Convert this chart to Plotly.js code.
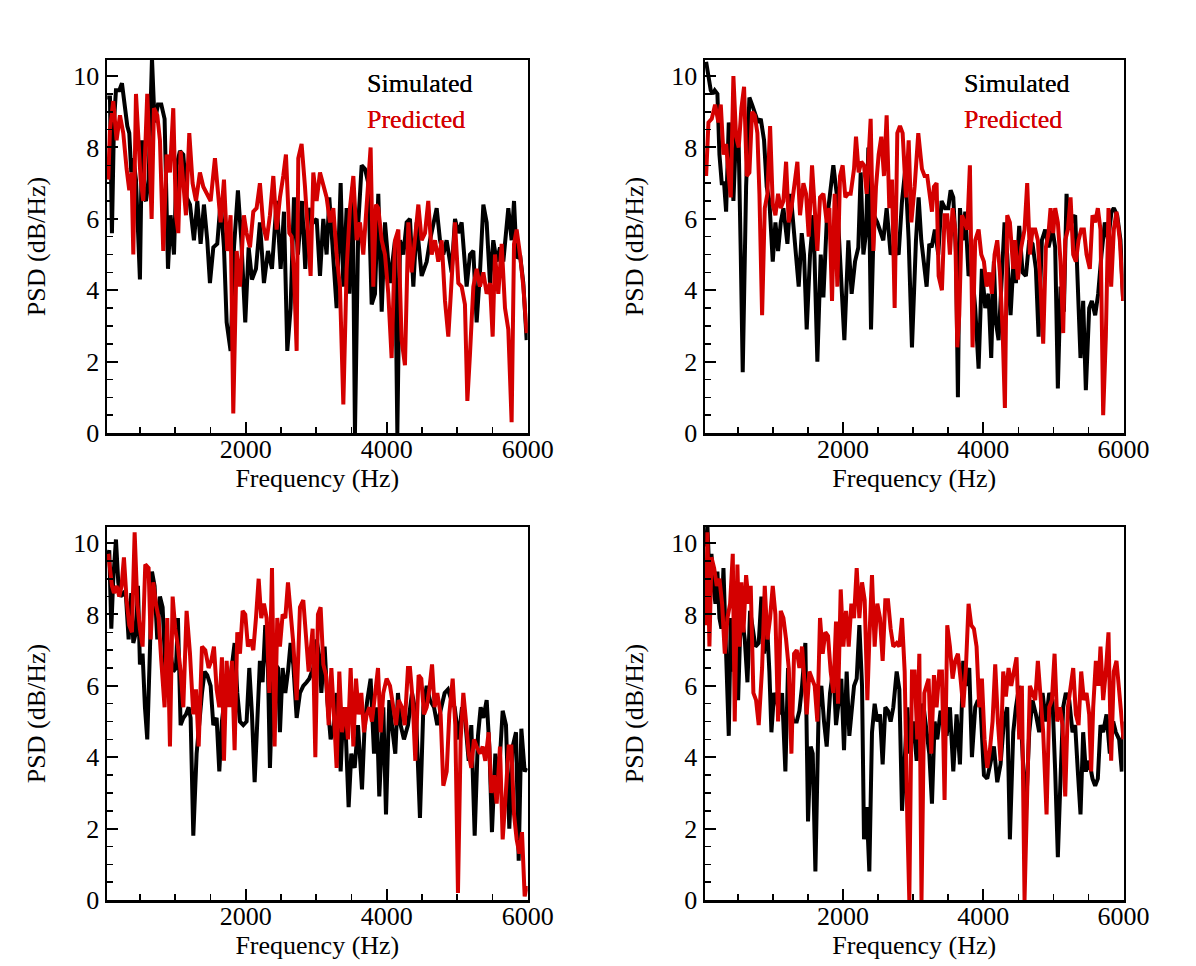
<!DOCTYPE html>
<html><head><meta charset="utf-8">
<script src="https://cdn.plot.ly/plotly-3.0.1.min.js"></script>
<style>html,body{margin:0;padding:0;background:#fff}#chart{width:1196px;height:966px}</style>
</head><body><div id="chart"></div>
<script>
// ---- data: [frequency (Hz), PSD (dB/Hz)] ----
const p1Sim = [[37,9.4],[75,9.4],[103,5.6],[132,8.7],[160,9.6],[207,9.6],[245,9.8],[283,9.1],[321,8.6],[349,8.4],[377,7.3],[406,7.7],[444,7.1],[500,4.3],[529,8.2],[557,6.6],[586,6.5],[623,7.1],[671,10.5],[708,8.7],[756,9.2],[803,9.2],[850,8.8],[898,4.6],[935,6.1],[983,5.0],[1020,7.5],[1068,7.9],[1115,7.8],[1162,6.6],[1210,6.4],[1266,5.4],[1314,6.5],[1361,5.3],[1408,6.4],[1455,5.4],[1493,4.2],[1541,5.2],[1597,5.3],[1645,6.5],[1692,5.2],[1730,3.1],[1786,2.3],[1834,5.2],[1890,6.8],[1938,5.4],[1994,3.1],[2042,5.2],[2089,4.3],[2146,4.6],[2202,5.9],[2259,4.2],[2316,5.1],[2373,4.6],[2439,6.5],[2496,4.6],[2543,6.2],[2590,2.3],[2637,3.5],[2685,6.6],[2741,5.0],[2798,6.5],[2845,4.6],[2893,6.3],[2959,5.9],[3007,6.0],[3054,4.4],[3101,6.0],[3148,5.0],[3186,6.6],[3219,5.6],[3290,3.5],[3347,7.0],[3385,4.1],[3432,6.3],[3470,3.9],[3517,6.9],[3550,0],[3598,5.9],[3645,7.5],[3692,7.4],[3739,7.0],[3787,3.6],[3834,3.9],[3881,6.7],[3929,3.4],[3976,5.9],[4047,4.2],[4118,5.4],[4151,0],[4189,5.4],[4236,5.0],[4283,5.9],[4330,6.0],[4378,4.1],[4425,5.9],[4496,4.4],[4567,4.8],[4614,5.4],[4709,6.3],[4756,5.4],[4803,5.0],[4850,5.4],[4921,4.5],[4969,6.0],[5016,5.6],[5063,5.9],[5134,4.1],[5181,5.0],[5229,5.1],[5276,3.1],[5323,4.5],[5371,6.4],[5418,5.9],[5465,4.2],[5512,5.4],[5560,4.8],[5607,5.2],[5654,4.8],[5725,6.3],[5772,5.4],[5806,6.5],[5843,4.9],[5891,5.0],[5938,4.2],[5985,2.6]];
const p1Pred = [[51,7.1],[75,8.5],[122,9.3],[169,8.2],[217,8.9],[264,8.4],[311,7.4],[349,6.8],[382,7.3],[406,5.0],[444,9.5],[481,7.8],[510,7.1],[548,6.5],[604,9.5],[633,8.1],[666,6.0],[699,9.1],[746,8.9],[784,8.2],[831,5.1],[879,7.8],[926,7.3],[973,9.1],[1011,6.1],[1044,5.6],[1077,7.9],[1115,7.0],[1153,6.1],[1200,8.4],[1247,7.0],[1295,6.5],[1351,7.3],[1399,6.9],[1446,6.7],[1503,6.5],[1564,7.7],[1611,6.7],[1645,5.9],[1692,7.1],[1739,5.1],[1786,6.1],[1824,0.55],[1872,5.1],[1919,4.1],[1975,6.1],[2013,5.6],[2061,5.2],[2108,6.2],[2155,6.3],[2202,7.0],[2250,5.8],[2297,5.4],[2344,6.1],[2392,7.2],[2439,5.7],[2486,6.6],[2533,7.2],[2571,7.8],[2619,5.6],[2652,5.5],[2685,4.5],[2723,2.3],[2746,7.7],[2793,8.1],[2841,6.9],[2888,5.4],[2921,4.4],[2959,7.3],[3006,6.5],[3054,7.3],[3101,6.9],[3148,6.6],[3196,5.9],[3243,6.3],[3290,5.0],[3337,4.1],[3385,0.8],[3432,4.6],[3479,6.3],[3527,7.2],[3574,5.4],[3621,5.9],[3668,5.0],[3725,6.6],[3772,8.0],[3810,4.1],[3848,6.4],[3881,6.3],[3929,5.4],[3976,5.0],[4023,3.9],[4070,2.1],[4118,5.4],[4165,5.7],[4212,2.6],[4259,1.9],[4307,5.9],[4354,4.5],[4401,5.6],[4449,6.4],[4496,5.4],[4543,5.6],[4590,6.5],[4638,5.0],[4685,5.4],[4732,4.8],[4780,5.4],[4827,3.7],[4874,2.7],[4921,4.4],[4969,5.9],[5016,4.2],[5063,4.1],[5110,3.6],[5144,0.9],[5181,2.2],[5229,4.1],[5276,4.6],[5323,4.1],[5371,4.5],[5418,3.9],[5465,4.2],[5503,2.7],[5536,5.0],[5583,3.9],[5631,5.3],[5678,3.5],[5725,2.9],[5772,0.3],[5806,5.3],[5843,5.7],[5891,5.0],[5938,4.1],[5985,2.8]];

const p2Sim = [[49,10.4],[82,9.9],[115,9.6],[144,9.5],[172,9.6],[210,9.5],[239,7.8],[272,7.0],[305,7.0],[334,6.2],[372,8.7],[410,8.0],[438,6.5],[476,8.4],[514,8.0],[543,5.0],[571,1.7],[619,6.9],[666,9.4],[704,9.2],[742,9.0],[790,8.7],[828,8.8],[875,8.2],[913,6.9],[951,6.5],[999,4.8],[1037,5.9],[1075,5.1],[1113,5.9],[1151,6.3],[1208,5.3],[1255,6.7],[1317,5.4],[1369,4.1],[1412,5.6],[1445,5.0],[1483,2.9],[1531,5.0],[1578,6.1],[1635,2.0],[1683,5.0],[1721,3.8],[1768,5.9],[1816,6.8],[1863,7.5],[1911,6.7],[1958,5.0],[2020,2.6],[2077,5.4],[2124,3.9],[2172,4.8],[2219,5.2],[2253,7.3],[2291,5.0],[2329,5.6],[2362,8.0],[2400,2.9],[2442,6.1],[2490,5.9],[2528,5.7],[2575,5.4],[2623,6.3],[2680,5.0],[2728,5.2],[2794,5.0],[2842,6.5],[2889,7.4],[2937,5.4],[2984,2.4],[3041,5.4],[3079,6.6],[3117,5.4],[3155,4.8],[3193,4.1],[3231,5.3],[3264,5.2],[3311,5.7],[3359,5.0],[3406,6.5],[3454,6.3],[3501,6.3],[3535,6.8],[3573,6.6],[3611,5.1],[3639,1.0],[3668,6.3],[3706,5.4],[3744,6.2],[3791,4.4],[3839,4.6],[3886,3.5],[3934,1.8],[3981,4.6],[4029,3.5],[4076,3.9],[4114,2.1],[4152,4.8],[4181,3.1],[4219,2.6],[4266,4.5],[4304,5.9],[4342,5.0],[4390,3.3],[4437,5.0],[4466,4.2],[4513,5.8],[4561,4.5],[4608,4.4],[4656,5.4],[4703,5.3],[4751,4.6],[4789,2.7],[4836,5.4],[4884,5.7],[4931,5.2],[4988,5.7],[5026,5.2],[5064,1.25],[5102,4.1],[5150,3.4],[5188,6.7],[5226,5.7],[5273,6.0],[5311,6.1],[5349,4.4],[5387,2.1],[5425,3.7],[5463,1.2],[5511,3.5],[5549,3.7],[5596,3.3],[5639,3.9],[5686,5.0],[5734,5.9],[5781,5.4],[5829,6.2],[5862,6.3],[5910,6.1],[5957,5.4],[5995,3.7]];
const p2Pred = [[49,7.2],[82,8.7],[129,8.8],[177,9.2],[224,8.7],[258,9.2],[296,7.8],[334,8.1],[367,7.3],[400,6.6],[438,10.0],[476,8.3],[514,8.0],[552,9.1],[590,9.7],[628,7.2],[666,7.3],[704,9.0],[742,8.9],[780,8.4],[809,6.7],[847,3.3],[885,6.3],[923,6.7],[961,8.6],[999,6.4],[1037,6.1],[1075,6.7],[1113,6.3],[1151,6.5],[1189,7.6],[1227,5.9],[1265,6.3],[1303,6.9],[1350,7.6],[1388,6.1],[1436,7.0],[1474,6.7],[1512,5.5],[1559,7.5],[1597,6.1],[1635,5.1],[1673,6.6],[1721,6.7],[1768,5.9],[1806,6.3],[1844,3.7],[1882,6.7],[1920,4.1],[1958,7.2],[1996,7.5],[2034,6.6],[2072,6.7],[2110,6.7],[2158,7.4],[2186,8.3],[2224,7.3],[2262,7.6],[2300,7.5],[2338,6.7],[2395,8.8],[2433,5.1],[2471,6.9],[2509,7.8],[2547,8.3],[2585,7.2],[2623,8.9],[2661,6.3],[2699,7.1],[2737,3.5],[2775,8.4],[2813,8.6],[2851,8.4],[2899,6.6],[2937,8.2],[2975,5.9],[3022,6.9],[3074,8.4],[3126,7.4],[3164,7.2],[3202,7.2],[3231,6.7],[3269,6.2],[3297,6.9],[3335,7.0],[3364,4.4],[3411,4.0],[3449,6.1],[3487,6.1],[3525,5.0],[3563,6.3],[3601,5.7],[3630,2.4],[3658,3.3],[3696,6.1],[3734,5.9],[3772,5.7],[3810,7.5],[3848,2.4],[3886,5.4],[3934,5.7],[3972,5.0],[4010,4.8],[4048,4.1],[4086,4.5],[4124,3.9],[4162,5.0],[4200,5.4],[4238,4.5],[4276,2.9],[4309,0.7],[4342,6.1],[4380,5.9],[4428,4.6],[4456,5.4],[4494,4.3],[4542,5.2],[4589,5.7],[4627,7.0],[4665,5.0],[4703,5.7],[4741,5.7],[4779,5.4],[4817,4.1],[4855,2.5],[4893,5.2],[4931,5.6],[4960,6.3],[4998,5.6],[5026,6.3],[5064,5.9],[5102,4.8],[5140,2.8],[5169,5.4],[5207,5.7],[5245,6.6],[5283,5.0],[5321,4.8],[5359,5.4],[5397,5.7],[5435,5.7],[5473,5.0],[5520,4.6],[5558,6.1],[5596,5.9],[5634,6.3],[5672,5.7],[5710,0.5],[5748,2.7],[5786,6.3],[5824,4.1],[5862,5.7],[5900,6.2],[5948,5.4],[5995,3.7]];

const p3Sim = [[37,9.5],[65,9.8],[94,7.6],[122,9.0],[160,10.1],[193,8.9],[226,8.5],[264,8.6],[302,8.5],[340,7.3],[377,8.6],[406,7.2],[444,7.5],[472,8.8],[500,6.6],[538,6.9],[571,5.4],[604,4.5],[642,7.0],[671,9.2],[708,8.8],[746,7.3],[784,8.5],[822,8.2],[860,6.5],[898,7.1],[935,6.9],[973,6.4],[1011,6.5],[1039,7.9],[1077,4.9],[1115,5.1],[1153,5.2],[1191,5.4],[1219,5.1],[1257,1.8],[1304,4.1],[1342,5.1],[1380,5.8],[1418,6.4],[1455,6.3],[1503,6.0],[1541,4.9],[1588,5.1],[1626,3.6],[1663,5.0],[1701,5.7],[1739,6.3],[1777,6.1],[1815,6.9],[1843,7.2],[1881,5.8],[1919,5.0],[1966,4.9],[2013,5.0],[2051,6.5],[2089,5.2],[2127,3.3],[2165,5.2],[2202,6.7],[2240,6.1],[2278,7.7],[2316,6.5],[2344,3.7],[2382,6.0],[2420,6.6],[2458,6.5],[2486,4.7],[2524,6.5],[2562,5.8],[2600,6.4],[2637,7.2],[2675,6.6],[2723,5.1],[2770,5.8],[2817,6.0],[2864,6.1],[2902,6.2],[2959,6.5],[3006,7.3],[3054,6.7],[3073,5.8],[3120,7.1],[3158,5.6],[3205,4.5],[3252,4.9],[3290,5.8],[3347,3.6],[3385,5.4],[3423,4.5],[3460,2.6],[3498,4.1],[3546,3.7],[3593,4.9],[3650,3.1],[3687,4.9],[3725,5.6],[3772,6.2],[3820,4.1],[3858,5.4],[3895,2.9],[3952,5.4],[3990,2.4],[4037,5.6],[4085,4.7],[4122,4.1],[4160,5.8],[4198,4.9],[4245,4.5],[4302,4.9],[4359,5.8],[4416,5.2],[4472,2.3],[4520,5.4],[4567,6.0],[4614,5.6],[4671,5.4],[4718,4.9],[4775,5.4],[4822,5.8],[4869,5.9],[4917,5.6],[4964,5.4],[5021,4.5],[5068,5.4],[5115,5.0],[5163,3.9],[5200,4.9],[5248,1.8],[5295,4.6],[5333,5.4],[5371,5.1],[5418,5.6],[5456,4.3],[5493,1.9],[5541,4.1],[5588,3.4],[5645,5.3],[5692,4.9],[5739,2.0],[5787,4.3],[5834,4.7],[5872,1.1],[5910,4.8],[5957,3.6],[5985,3.7]];
const p3Pred = [[51,9.7],[75,9.3],[103,8.8],[132,8.6],[169,8.8],[207,8.5],[240,8.8],[273,9.6],[311,8.4],[349,7.7],[387,7.5],[425,10.3],[463,8.3],[500,7.6],[538,7.1],[576,9.4],[623,9.3],[652,7.3],[690,8.9],[727,8.3],[765,7.9],[803,6.7],[850,5.4],[888,7.9],[926,4.3],[964,8.5],[1001,7.6],[1039,7.1],[1077,6.4],[1115,5.4],[1162,8.1],[1210,6.9],[1257,5.2],[1295,5.9],[1333,4.3],[1380,7.1],[1427,7.0],[1474,6.5],[1512,6.7],[1550,7.1],[1588,5.9],[1626,5.4],[1663,6.8],[1692,3.9],[1730,6.7],[1767,5.4],[1805,6.7],[1843,4.2],[1881,7.5],[1919,6.9],[1957,8.1],[1994,8.0],[2032,7.1],[2070,7.3],[2108,7.0],[2146,7.9],[2184,9.0],[2221,7.9],[2259,8.3],[2297,7.9],[2335,5.8],[2373,9.3],[2410,4.3],[2448,7.9],[2486,7.1],[2524,8.0],[2562,7.9],[2600,8.9],[2637,8.0],[2675,7.2],[2723,5.6],[2770,8.2],[2817,8.4],[2855,7.5],[2893,6.4],[2950,7.6],[2988,4.0],[3025,8.0],[3063,8.2],[3101,6.6],[3139,6.3],[3177,4.9],[3215,6.5],[3252,5.2],[3290,3.7],[3328,6.4],[3366,4.7],[3413,5.4],[3451,4.5],[3489,6.5],[3527,4.3],[3565,6.2],[3602,5.2],[3640,5.8],[3678,4.7],[3716,5.2],[3754,5.4],[3791,5.0],[3839,5.9],[3877,6.5],[3914,4.7],[3952,5.8],[3999,6.2],[4047,6.0],[4094,5.4],[4132,4.9],[4170,5.6],[4217,5.4],[4255,4.9],[4302,6.5],[4330,6.5],[4368,5.6],[4406,3.9],[4453,6.3],[4491,6.2],[4529,5.2],[4567,5.4],[4605,5.9],[4643,6.6],[4680,5.4],[4718,5.8],[4765,5.2],[4803,3.2],[4851,3.6],[4888,5.2],[4936,6.2],[4973,4.9],[5011,0.2],[5049,4.5],[5087,5.8],[5125,5.0],[5163,4.1],[5200,3.7],[5238,4.5],[5276,4.3],[5323,4.1],[5361,4.3],[5399,3.9],[5446,4.7],[5484,3.0],[5522,3.5],[5560,2.7],[5607,4.3],[5645,1.7],[5683,2.8],[5730,4.3],[5768,4.3],[5806,2.4],[5843,1.7],[5881,1.3],[5919,1.9],[5957,0.1],[5990,0.4]];

const p4Sim = [[49,9.9],[67,10.5],[96,9.1],[125,9.7],[153,8.8],[182,8.3],[210,9.2],[239,7.9],[267,7.6],[296,9.3],[334,6.9],[372,4.6],[400,7.9],[429,6.4],[467,7.9],[505,5.6],[533,7.4],[562,7.9],[600,7.3],[638,6.1],[676,8.1],[714,7.5],[752,7.1],[799,7.2],[837,8.5],[875,6.9],[913,7.9],[951,6.4],[980,4.7],[1018,5.8],[1056,5.6],[1094,5.2],[1132,5.8],[1179,3.6],[1217,6.5],[1255,5.4],[1293,5.0],[1341,5.0],[1379,5.3],[1417,6.0],[1464,7.2],[1502,2.2],[1540,4.3],[1569,4.1],[1607,0.8],[1654,5.4],[1692,6.0],[1730,5.0],[1768,4.3],[1816,5.8],[1863,6.5],[1901,4.9],[1939,5.6],[1977,6.2],[2015,4.2],[2053,6.4],[2091,4.6],[2129,5.4],[2158,6.0],[2196,6.2],[2234,7.7],[2272,6.0],[2300,1.7],[2338,2.6],[2376,0.8],[2414,4.7],[2452,5.5],[2490,5.0],[2528,5.2],[2566,3.8],[2604,5.4],[2642,5.3],[2680,5.0],[2718,5.4],[2766,6.4],[2804,5.9],[2842,2.5],[2880,3.9],[2918,5.4],[2956,4.1],[3003,5.0],[3051,3.9],[3098,5.0],[3145,5.5],[3193,4.7],[3231,4.1],[3269,2.7],[3307,5.0],[3345,4.5],[3392,5.3],[3430,5.0],[3478,4.6],[3525,5.4],[3573,3.6],[3620,5.2],[3668,3.8],[3715,6.7],[3753,6.0],[3801,6.5],[3839,4.0],[3886,5.4],[3924,5.6],[3962,5.4],[4010,3.5],[4057,3.4],[4105,3.9],[4152,4.3],[4200,3.3],[4247,3.8],[4295,5.0],[4342,5.4],[4380,1.7],[4428,4.7],[4466,5.4],[4513,6.0],[4561,4.1],[4608,2.4],[4656,4.7],[4703,5.6],[4751,5.2],[4798,4.7],[4846,5.8],[4893,5.0],[4941,5.8],[4988,5.6],[5026,3.6],[5064,1.2],[5102,3.4],[5140,5.4],[5178,5.8],[5226,5.6],[5273,4.7],[5311,4.9],[5349,3.6],[5387,2.4],[5425,4.7],[5463,3.6],[5511,3.9],[5558,3.4],[5596,3.2],[5634,3.4],[5672,4.9],[5710,4.7],[5758,5.2],[5805,4.1],[5853,5.0],[5891,4.7],[5938,4.5],[5976,3.6],[6000,5.0]];
const p4Pred = [[49,7.7],[67,10.3],[96,7.1],[125,9.6],[163,9.3],[201,8.8],[239,9.0],[277,8.3],[315,6.9],[353,7.9],[391,8.3],[429,9.7],[457,5.0],[495,9.4],[524,7.1],[552,8.9],[581,7.5],[619,9.1],[657,8.3],[685,8.8],[723,5.8],[761,5.6],[799,4.9],[847,6.5],[885,8.8],[923,7.3],[961,7.9],[999,8.8],[1037,8.0],[1075,5.0],[1113,8.1],[1151,7.9],[1189,7.3],[1227,6.5],[1265,4.1],[1303,6.9],[1341,7.0],[1379,6.5],[1417,7.1],[1455,6.2],[1483,5.2],[1521,6.4],[1559,6.2],[1597,6.0],[1635,5.0],[1673,7.9],[1711,6.9],[1749,7.5],[1787,7.4],[1825,6.4],[1863,5.8],[1901,7.8],[1930,5.5],[1968,8.7],[2006,7.1],[2044,8.1],[2082,7.1],[2120,8.3],[2158,7.9],[2196,9.3],[2234,7.9],[2272,8.9],[2310,8.4],[2348,5.6],[2376,7.3],[2414,9.1],[2452,7.1],[2490,8.3],[2528,7.9],[2566,6.7],[2604,8.4],[2642,8.4],[2680,7.6],[2718,7.1],[2766,7.2],[2804,7.1],[2842,7.9],[2880,6.4],[2918,2.2],[2946,0],[2984,6.4],[3022,6.4],[3060,4.5],[3089,6.9],[3120,0],[3160,5.8],[3221,6.2],[3259,4.1],[3297,6.3],[3335,5.4],[3373,6.4],[3411,6.4],[3449,2.8],[3487,7.7],[3525,7.1],[3563,6.2],[3601,6.7],[3639,6.9],[3677,6.2],[3715,5.4],[3753,6.5],[3791,8.3],[3829,7.7],[3867,7.6],[3905,7.1],[3943,5.4],[3981,6.2],[4019,4.5],[4057,3.7],[4095,4.2],[4133,5.0],[4171,6.6],[4209,5.0],[4247,3.9],[4285,6.4],[4323,5.7],[4361,6.5],[4399,6.0],[4437,6.4],[4475,6.8],[4513,4.5],[4551,6.0],[4589,0],[4627,3.4],[4665,6.0],[4703,5.8],[4741,5.6],[4779,6.7],[4817,5.6],[4855,4.7],[4903,2.4],[4941,5.4],[4979,5.6],[5017,6.9],[5055,5.0],[5093,5.4],[5131,4.9],[5169,2.9],[5207,5.4],[5245,6.0],[5283,6.5],[5321,5.2],[5359,4.9],[5397,6.4],[5435,5.6],[5473,5.8],[5511,5.2],[5539,3.6],[5568,5.4],[5606,6.7],[5644,6.0],[5672,7.1],[5710,5.6],[5748,6.4],[5786,7.5],[5824,3.9],[5862,6.4],[5900,6.7],[5938,5.8],[5976,5.0],[6000,4.5]];

const seriesNames = ['Simulated', 'Predicted'];
const xTitle = 'Frequency (Hz)';
const yTitle = 'PSD (dB/Hz)';

// ---- styling / layout ----
const W = 1196, H = 966;
const FONT = 'Liberation Serif, Times New Roman, serif';
const COLORS = ['#000000', '#d40000'];
const boxes = [[107, 527.7, 60, 433], [705, 1123.5, 60, 433], [107, 527.7, 527, 900], [705, 1123.5, 527, 900]];
const panels = [[p1Sim, p1Pred], [p2Sim, p2Pred], [p3Sim, p3Pred], [p4Sim, p4Pred]];

const traces = [];
const layout = {
  width: W, height: H, margin: {l: 0, r: 0, t: 0, b: 0},
  paper_bgcolor: '#fff', plot_bgcolor: '#fff', showlegend: false,
  font: {family: FONT, size: 26, color: '#000'},
  annotations: []
};

panels.forEach((pair, i) => {
  const n = i === 0 ? '' : String(i + 1);
  const b = boxes[i];
  pair.forEach((s, k) => {
    traces.push({
      type: 'scatter', mode: 'lines', name: seriesNames[k],
      x: s.map(p => p[0]), y: s.map(p => p[1]),
      xaxis: 'x' + n, yaxis: 'y' + n,
      line: {color: COLORS[k], width: 4}, hoverinfo: 'skip'
    });
  });
  layout['xaxis' + n] = {
    domain: [b[0] / W, b[1] / W], anchor: 'y' + n, range: [33, 6000],
    tick0: 0, dtick: 2000, ticks: 'inside', ticklen: 11, tickwidth: 2, tickcolor: '#000',
    ticklabelstandoff: -9,
    showline: true, linewidth: 2.5, linecolor: '#000', mirror: true,
    showgrid: false, zeroline: false, automargin: false,
    tickfont: {family: FONT, size: 26, color: '#000'},
    minor: {ticks: 'inside', ticklen: 6, tickwidth: 1.5, tickcolor: '#000', tick0: 0, dtick: 500, showgrid: false},
    title: {text: xTitle, font: {family: FONT, size: 26, color: '#000'}, standoff: 0}
  };
  layout['yaxis' + n] = {
    domain: [1 - b[3] / H, 1 - b[2] / H], anchor: 'x' + n, range: [0, 10.45],
    tick0: 0, dtick: 2, ticks: 'inside', ticklen: 11, tickwidth: 2, tickcolor: '#000',
    showline: true, linewidth: 2.5, linecolor: '#000', mirror: true,
    showgrid: false, zeroline: false, automargin: false,
    tickfont: {family: FONT, size: 26, color: '#000'},
    minor: {ticks: 'inside', ticklen: 6, tickwidth: 1.5, tickcolor: '#000', tick0: 0, dtick: 0.5, showgrid: false},
    title: {text: yTitle, font: {family: FONT, size: 26, color: '#000'}, standoff: 20}
  };
  const h = b[3] - b[2];
  [[83, 0], [119, 1]].forEach(([yy, k]) => {
    layout.annotations.push({
      xref: 'x' + n + ' domain', yref: 'y' + n + ' domain',
      x: 0.614, y: 1 - (yy - b[2]) / h, xanchor: 'left', yanchor: 'middle',
      text: seriesNames[k], showarrow: false,
      font: {family: FONT, size: 26, color: COLORS[k]}
    });
  });
});

Plotly.newPlot('chart', traces, layout, {staticPlot: true, displayModeBar: false});
</script>
</body></html>
